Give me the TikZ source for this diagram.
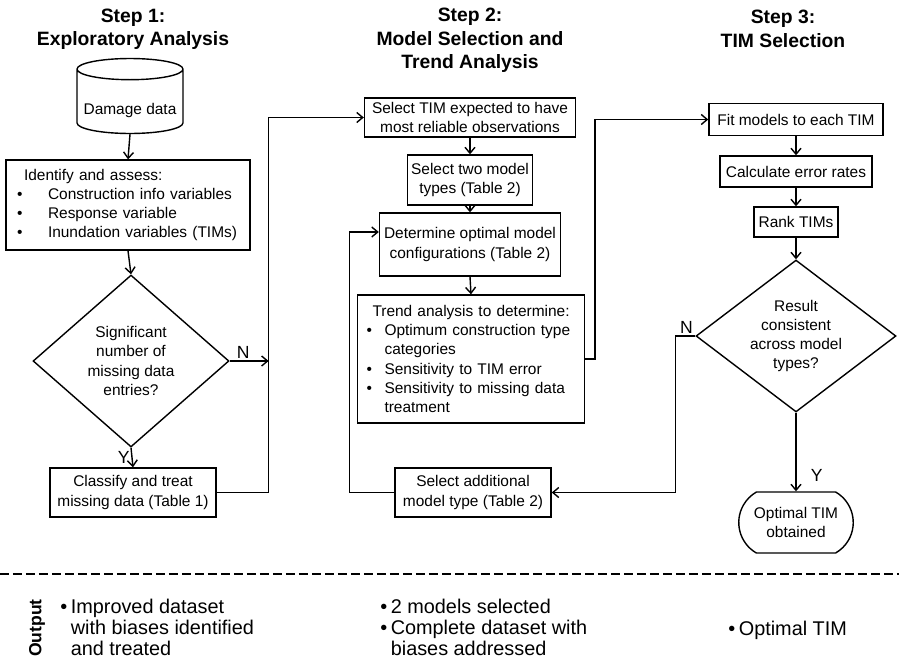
\documentclass[tikz,border=0pt]{standalone}
\usepackage{fontspec}
\setmainfont{Liberation Sans}
\usetikzlibrary{arrows.meta,shapes.geometric,shapes.misc}
\tikzset{
	box/.style={draw, line width=0.8pt, rectangle, inner sep=1pt, align=center, font=\fontsize{8.8}{10.9}\selectfont},
	decision/.style={draw, line width=0.8pt, diamond, inner sep=0pt, align=center, font=\fontsize{8.8}{10.9}\selectfont},
	heading/.style={align=center, font=\bfseries\fontsize{11}{13.3}\selectfont},
	yesno/.style={font=\fontsize{10}{12}\selectfont, inner sep=1pt},
	flow/.style={line width=0.8pt, -{Straight Barb[length=0.12cm,width=0.2cm]}},
	outtext/.style={anchor=west, inner sep=0pt, font=\fontsize{11.3}{11.9}\selectfont}
}
\def\itm#1{\makebox[#1][l]{\textbullet}}

\begin{document}
\begin{tikzpicture}[x=0.02cm, y=-0.02cm]
			%%%%% START %%%%%
			\useasboundingbox (0, 0) rectangle (899, 667);
			
			\node[heading] (head1) at (133, 29) {Step 1:\\Exploratory Analysis};
			\node[heading] (head2) at (470, 40.5) {Step 2:\\Model Selection and\\Trend Analysis};
			\node[heading] (head3) at (783, 29) {Step 3:\\TIM Selection};
			
			% step 1
			\node[box, cylinder, shape border rotate=90, aspect=0.22, minimum width=2.12cm, minimum height=1.5cm, text height=15pt, text depth=2pt] (data) at (130, 103) {Damage data};
			\node[box, align=left, text width=4.56cm, inner xsep=0.16cm, minimum height=1.8cm] (identify) at (128, 205) {\hspace*{0.2cm}Identify and assess:\\
				\hspace*{0.06cm}\itm{0.62cm}Construction info variables\\
				\hspace*{0.06cm}\itm{0.62cm}Response variable\\
				\hspace*{0.06cm}\itm{0.62cm}Inundation variables (TIMs)};
			\node[decision, minimum width=3.92cm, minimum height=3.44cm, aspect=1.14] (missing) at (131, 361) {Significant\\number of\\missing data\\entries?};
			\node[box, minimum width=3.32cm, minimum height=0.98cm] (classify) at (133, 492.5) {Classify and treat\\missing data (Table 1)};
			
			\draw[flow] (data.south) -- (identify.north);
			\draw[flow] (identify.south) -- (missing.north);
			\draw[flow] (missing.east) -- ++(39, 0) node[yesno, pos=0.35, above] (n1) {N};
			\draw[flow] (missing.south) -- (classify.north) node[yesno, midway, left] (y1) {Y};
			
			% step 2
			\node[box, minimum width=4.22cm, minimum height=0.78cm] (seltim) at (470, 117.5) {Select TIM expected to have\\most reliable observations};
			\node[box, minimum width=2.5cm, minimum height=1cm] (seltwo) at (470, 180) {Select two model\\types (Table 2)};
			\node[box, minimum width=3.62cm, minimum height=1.26cm] (optim) at (470, 244.5) {Determine optimal model\\configurations (Table 2)};
			\node[box, align=left, text width=4.26cm, inner xsep=0.14cm, minimum height=2.56cm] (trend) at (471, 359) {\hspace*{0.16cm}Trend analysis to determine:\\
				\hspace*{0.04cm}\itm{0.36cm}Optimum construction type\\
				\hspace*{0.4cm}categories\\
				\hspace*{0.04cm}\itm{0.36cm}Sensitivity to TIM error\\
				\hspace*{0.04cm}\itm{0.36cm}Sensitivity to missing data\\
				\hspace*{0.4cm}treatment};
			\node[box, minimum width=3.12cm, minimum height=0.98cm] (seladd) at (473, 492.5) {Select additional\\model type (Table 2)};
			
			\draw[flow] (classify.east) -- ++(52, 0) |- (seltim.west);
			\draw[flow] (seltim.south) -- (seltwo.north);
			\draw[flow] (seltwo.south) -- (optim.north);
			\draw[flow] (optim.south) -- (trend.north);
			\draw[flow] (seladd.west) -- ++(-45, 0) |- ([yshift=0.25cm]optim.west);
			
			% step 3
			\node[box, minimum width=3.48cm, minimum height=0.64cm] (fit) at (796, 119.5) {Fit models to each TIM};
			\node[box, minimum width=3.04cm, minimum height=0.62cm] (calc) at (796, 171.5) {Calculate error rates};
			\node[box, minimum width=1.68cm, minimum height=0.6cm] (rank) at (796, 222) {Rank TIMs};
			\node[decision, minimum width=4cm, minimum height=3.04cm, aspect=1.3] (consistent) at (796, 336) {Result\\consistent\\across model\\types?};
			\node[box, rounded rectangle, rounded rectangle arc length=120, minimum width=2.36cm, minimum height=1.22cm] (optimal) at (796, 522.5) {Optimal TIM\\obtained};
			
			\draw[flow] (trend.east) -- ++(10, 0) |- (fit.west);
			\draw[flow] (fit.south) -- (calc.north);
			\draw[flow] (calc.south) -- (rank.north);
			\draw[flow] (rank.south) -- (consistent.north);
			\draw[flow] (consistent.south) -- (optimal.north) node[yesno, pos=0.8, right=0.25cm] (y2) {Y};
			\draw[flow] (consistent.west) -- ++(-20, 0) node[yesno, pos=0, above left] (n2) {N} |- (seladd.east);
			
			% output
			\draw[line width=0.6pt, dash pattern=on 0.18cm off 0.08cm] (0, 574) -- (899, 574);
			
			\node[rotate=90, font=\bfseries\fontsize{10}{12}\selectfont] (outlabel) at (37, 628) {Output};
			\node[outtext] (out1) at (60, 630) {\begin{tabular}{@{}l@{\hspace{2pt}}l@{}}\textbullet & Improved dataset\\ & with biases identified\\ & and treated\end{tabular}};
			\node[outtext] (out2) at (380, 630) {\begin{tabular}{@{}l@{\hspace{2pt}}l@{}}\textbullet & 2 models selected\\ \textbullet & Complete dataset with\\ & biases addressed\end{tabular}};
			\node[outtext] (out3) at (728, 630) {\textbullet\hspace{2pt}Optimal TIM};
			
			%%%%% END %%%%%
\end{tikzpicture}
\end{document}
